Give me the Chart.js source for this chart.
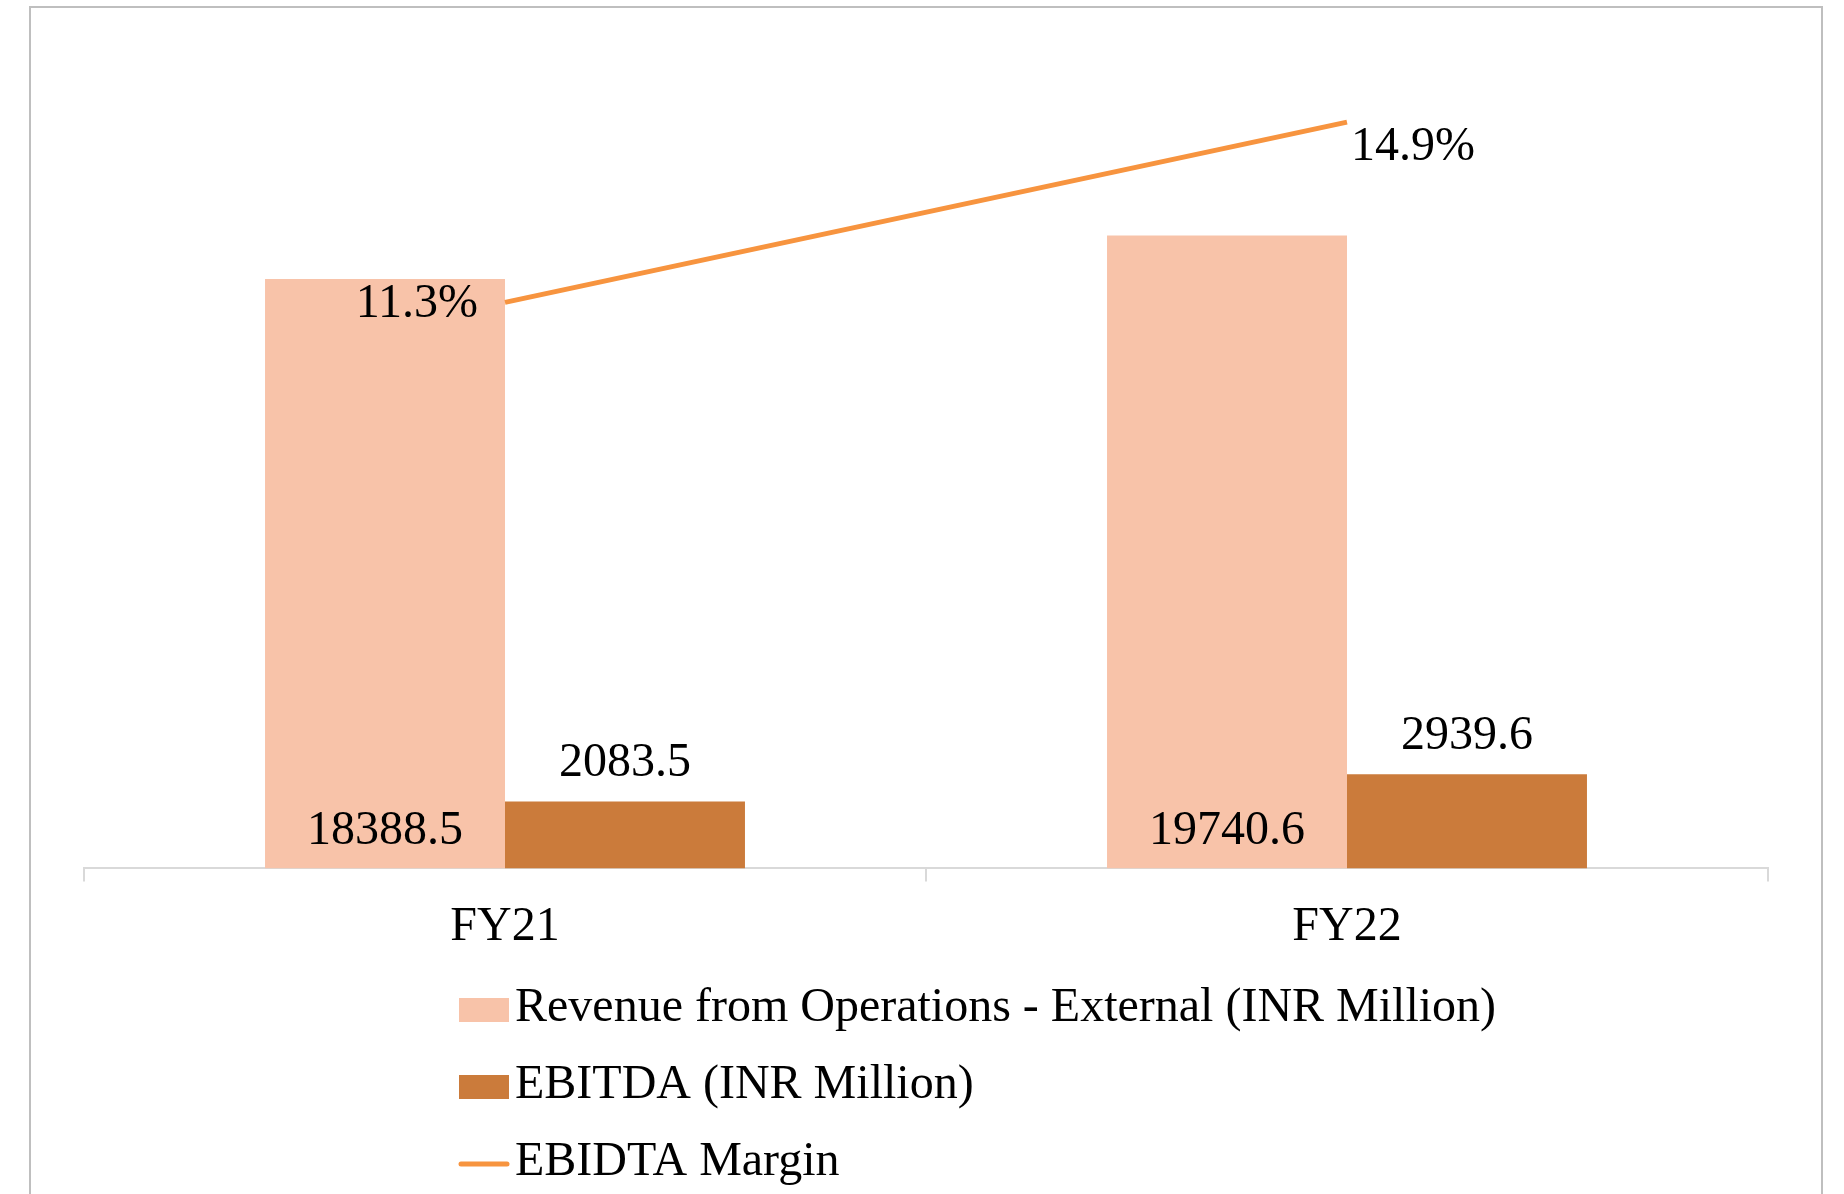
<!DOCTYPE html>
<html>
<head>
<meta charset="utf-8">
<script src="https://cdn.jsdelivr.net/npm/chart.js@4.4.1/dist/chart.umd.min.js"></script>
<style>
  html, body { margin: 0; padding: 0; background: #fff; }
  #wrap { position: relative; width: 1844px; height: 1194px; overflow: hidden; }
  #frame {
    position: absolute; left: 29px; top: 6px; width: 1794px; height: 1300px;
    border: 2px solid #bfbfbf; box-sizing: border-box;
  }
  #chart { position: absolute; left: 0; top: 0; }
</style>
</head>
<body>
<div id="wrap">
  <div id="frame"></div>
  <canvas id="chart" width="1844" height="1194"></canvas>
</div>
<script>
  const categories = ["FY21", "FY22"];
  const revenue = [18388.5, 19740.6];
  const ebitda = [2083.5, 2939.6];
  const margin = [11.3, 14.9];

  const FONT = '48px "Liberation Serif", "Times New Roman", serif';

  // value labels drawn the way the original places them
  const valueLabels = {
    id: "valueLabels",
    afterDatasetsDraw(chart) {
      const ctx = chart.ctx;
      ctx.save();
      ctx.font = FONT;
      ctx.fillStyle = "#000";
      ctx.textBaseline = "middle";

      ctx.textAlign = "center";
      chart.getDatasetMeta(0).data.forEach((bar, i) => {
        ctx.fillText(revenue[i].toFixed(1), bar.x, bar.base - 37);
      });
      chart.getDatasetMeta(1).data.forEach((bar, i) => {
        ctx.fillText(ebitda[i].toFixed(1), bar.x, bar.y - 38);
      });

      const pts = chart.getDatasetMeta(2).data;
      pts.forEach((pt, i) => {
        const text = margin[i].toFixed(1) + "%";
        if (i === 0) {
          ctx.textAlign = "right";
          ctx.fillText(text, pt.x - 27, pt.y + 2);
        } else {
          ctx.textAlign = "left";
          ctx.fillText(text, pt.x + 4, pt.y + 25);
        }
      });
      ctx.restore();
    },
  };

  // legend stacked one entry per row, like the original
  const stackedLegend = {
    id: "stackedLegend",
    afterDraw(chart) {
      const ctx = chart.ctx;
      const x0 = 459;
      const rows = [1008, 1085, 1162];
      ctx.save();
      ctx.font = FONT;
      ctx.textBaseline = "middle";
      ctx.textAlign = "left";
      chart.data.datasets.forEach((ds, i) => {
        const y = rows[i];
        if (ds.type === "line") {
          ctx.strokeStyle = ds.borderColor;
          ctx.lineWidth = 5;
          ctx.lineCap = "round";
          ctx.beginPath();
          ctx.moveTo(x0 + 2, y + 2);
          ctx.lineTo(x0 + 48, y + 2);
          ctx.stroke();
        } else {
          ctx.fillStyle = ds.backgroundColor;
          ctx.fillRect(x0, y - 10, 50, 24);
        }
        ctx.fillStyle = "#000";
        ctx.fillText(ds.label, x0 + 56, y);
      });
      ctx.restore();
    },
  };

  new Chart(document.getElementById("chart"), {
    data: {
      labels: categories,
      datasets: [
        {
          type: "bar",
          label: "Revenue from Operations - External (INR Million)",
          data: revenue,
          backgroundColor: "#F8C3A9",
          yAxisID: "y",
          order: 2,
        },
        {
          type: "bar",
          label: "EBITDA (INR Million)",
          data: ebitda,
          backgroundColor: "#CB7B3B",
          yAxisID: "y",
          order: 2,
        },
        {
          type: "line",
          label: "EBIDTA Margin",
          data: margin,
          borderColor: "#F7943F",
          borderWidth: 5,
          pointRadius: 0,
          tension: 0,
          fill: false,
          yAxisID: "y2",
          order: 1,
        },
      ],
    },
    options: {
      responsive: false,
      animation: false,
      devicePixelRatio: 1,
      layout: { padding: { left: 84, right: 76, top: 67, bottom: 221 } },
      datasets: {
        bar: { categoryPercentage: 0.57, barPercentage: 1.0 },
      },
      plugins: {
        legend: { display: false },
        tooltip: { enabled: false },
      },
      scales: {
        x: {
          offset: true,
          grid: {
            display: true,
            offset: true,
            drawOnChartArea: false,
            drawTicks: true,
            tickLength: 13,
            color: "#d9d9d9",
            lineWidth: 2,
          },
          border: { display: true, color: "#d9d9d9", width: 2 },
          ticks: { color: "#000", font: { family: '"Liberation Serif"', size: 48 }, padding: 17 },
        },
        y: { display: false, min: 0, max: 25000 },
        y2: { display: false, min: 0, max: 16, position: "right" },
      },
    },
    plugins: [valueLabels, stackedLegend],
  });
</script>
</body>
</html>
